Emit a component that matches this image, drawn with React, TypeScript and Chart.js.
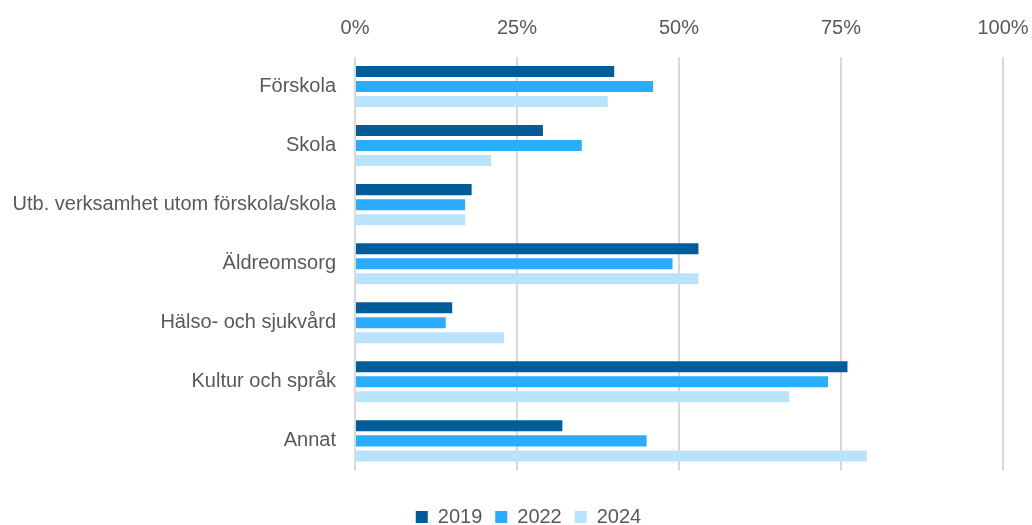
import React, { useEffect, useRef } from "react";
import { Chart, registerables } from "chart.js";

Chart.register(...registerables);

const categories = [
  "Förskola",
  "Skola",
  "Utb. verksamhet utom förskola/skola",
  "Äldreomsorg",
  "Hälso- och sjukvård",
  "Kultur och språk",
  "Annat",
];
const seriesNames = ["2019", "2022", "2024"];
const values2019 = [40, 29, 18, 53, 15, 76, 32];
const values2022 = [46, 35, 17, 49, 14, 73, 45];
const values2024 = [39, 21, 17, 53, 23, 67, 79];
const seriesColors = ["#005D9A", "#2AADFF", "#B9E3FD"];
const xTicks = [0, 25, 50, 75, 100];

const FONT = "'Liberation Sans', Arial, sans-serif";
const TEXT = "#595959";

const legendShift = {
  id: "legendShift",
  afterLayout(chart: any) {
    const lg = chart.legend;
    if (lg) {
      lg.left += 27;
      lg.right += 27;
    }
  },
};

export default function App() {
  const ref = useRef<HTMLCanvasElement | null>(null);

  useEffect(() => {
    if (!ref.current) return;
    const data = [values2019, values2022, values2024];
    const chart = new Chart(ref.current, {
      type: "bar",
      data: {
        labels: categories,
        datasets: seriesNames.map((name, i) => ({
          label: name,
          data: data[i],
          backgroundColor: seriesColors[i],
          borderWidth: 0,
          categoryPercentage: 0.763,
          barPercentage: 0.733,
        })),
      },
      plugins: [legendShift],
      options: {
        indexAxis: "y",
        animation: false,
        responsive: false,
        maintainAspectRatio: false,
        layout: { padding: { left: 0, right: 29, top: 0, bottom: -12 } },
        plugins: {
          tooltip: { enabled: false },
          legend: {
            position: "bottom",
            title: { display: true, text: "", padding: { top: 7, bottom: 7 }, font: { size: 8 } },
            labels: {
              boxWidth: 12,
              boxHeight: 12,
              padding: 13,
              color: TEXT,
              font: { family: FONT, size: 20 },
            },
          },
        },
        scales: {
          x: {
            position: "top",
            min: 0,
            max: 100,
            afterBuildTicks: (scale: any) => {
              scale.ticks = xTicks.map((v) => ({ value: v }));
            },
            afterFit: (scale: any) => {
              scale.height = 57;
              scale.paddingRight = 0;
              scale.paddingLeft = 0;
            },
            ticks: {
              color: TEXT,
              padding: 17,
              font: { family: FONT, size: 20 },
              callback: (v: any) => v + "%",
            },
            grid: { color: "#d9d9d9", lineWidth: 2, drawTicks: false },
            border: { display: false },
          },
          y: {
            afterFit: (scale: any) => {
              scale.width = 355;
            },
            ticks: {
              color: TEXT,
              padding: 19,
              font: { family: FONT, size: 20 },
            },
            grid: { display: false, drawTicks: false },
            border: { display: false },
          },
        },
      },
    });
    return () => chart.destroy();
  }, []);

  return (
    <div style={{ position: "absolute", left: 0, top: 0, width: 1032, height: 525, background: "#fff" }}>
      <canvas ref={ref} width={1032} height={525} style={{ display: "block" }} />
    </div>
  );
}
